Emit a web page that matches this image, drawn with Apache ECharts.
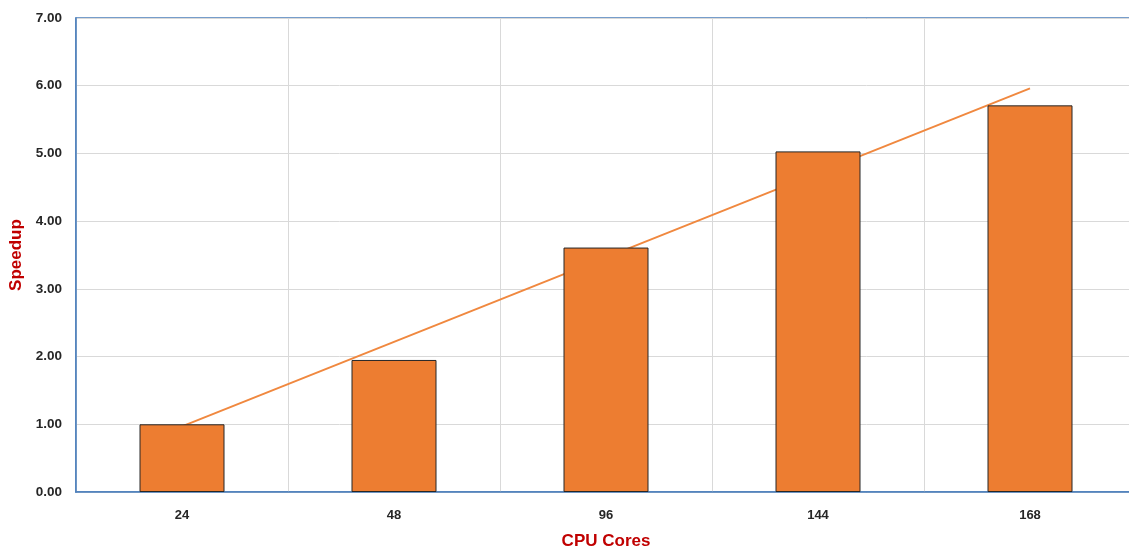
<!DOCTYPE html>
<html>
<head>
<meta charset="utf-8">
<style>
  html, body { margin: 0; padding: 0; background: #ffffff; }
  #chart { width: 1129px; height: 550px; }
</style>
<script src="https://cdn.jsdelivr.net/npm/echarts@6/dist/echarts.min.js"></script>
</head>
<body>
<div id="chart"></div>
<script>
// Core counts on the x axis
const cores = ['24', '48', '96', '144', '168'];
// Measured speedup per core count
const speedup = [1.00, 1.95, 3.61, 5.03, 5.71];
// Linear trend line endpoints (first and last category)
const trend = [0.97, null, null, null, 5.96];

const font = '"Liberation Sans", "DejaVu Sans", sans-serif';
const axisBlue = '#4a7ebb';

const chart = echarts.init(document.getElementById('chart'));
chart.setOption({
  animation: false,
  grid: {
    left: 76, top: 18, right: -7, bottom: 58,
    containLabel: false,
    outerBoundsMode: 'none',
    show: true, borderColor: axisBlue, borderWidth: 1.5
  },
  xAxis: {
    type: 'category',
    data: cores,
    name: 'CPU Cores',
    nameLocation: 'middle',
    nameGap: 41,
    nameTextStyle: { color: '#c00000', fontWeight: 'bold', fontSize: 17, fontFamily: font },
    axisLine: { lineStyle: { color: axisBlue, width: 1.5 } },
    axisTick: { show: false },
    axisLabel: { color: '#262626', fontWeight: 'bold', fontSize: 13, fontFamily: font, margin: 17 },
    splitLine: { show: true, lineStyle: { color: '#d9d9d9', width: 1 } }
  },
  yAxis: {
    type: 'value',
    min: 0, max: 7, interval: 1,
    name: 'Speedup',
    nameLocation: 'middle',
    nameGap: 51,
    nameTextStyle: { color: '#c00000', fontWeight: 'bold', fontSize: 17, fontFamily: font },
    axisLine: { show: true, lineStyle: { color: axisBlue, width: 1.5 } },
    axisTick: { show: false },
    axisLabel: {
      color: '#262626', fontWeight: 'bold', fontSize: 13.5, fontFamily: font, margin: 14,
      formatter: v => v.toFixed(2)
    },
    splitLine: { show: true, lineStyle: { color: '#d9d9d9', width: 1 } }
  },
  series: [
    {
      type: 'line',
      data: trend,
      connectNulls: true,
      symbol: 'none',
      z: 1,
      lineStyle: { color: '#f0883f', width: 2 }
    },
    {
      type: 'bar',
      data: speedup,
      barWidth: 85,
      z: 3,
      itemStyle: { color: '#ed7d31', borderColor: '#262626', borderWidth: 1 }
    }
  ]
});
</script>
</body>
</html>
